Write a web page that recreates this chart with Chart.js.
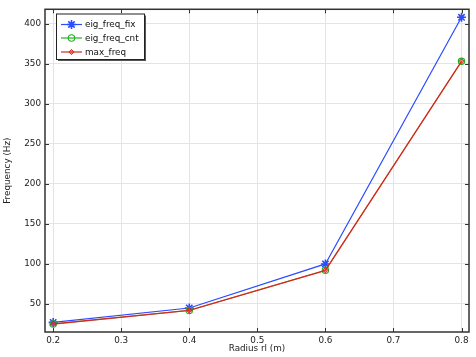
<!DOCTYPE html>
<html>
<head>
<meta charset="utf-8">
<script src="https://cdn.jsdelivr.net/npm/chart.js@4/dist/chart.umd.min.js"></script>
<style>
html,body{margin:0;padding:0;background:#fff;}
canvas{display:block;}
</style>
</head>
<body>
<canvas id="c" width="476" height="357"></canvas>
<script>
const radius = [0.2, 0.4, 0.6, 0.8];
const eigFreqFix = [27, 45, 100, 408];
const eigFreqCnt = [25, 42, 92, 353];
const maxFreq = [25, 42, 92, 353];
const seriesNames = ['eig_freq_fix', 'eig_freq_cnt', 'max_freq'];
const xTitle = 'Radius rl (m)';
const yTitle = 'Frequency (Hz)';

const FONT = 'DejaVu Sans';
const FS = 8.8;
const toPts = (xs, ys) => xs.map((x, i) => ({x: x, y: ys[i]}));

const framePlugin = {
  id: 'frame',
  afterDatasetsDraw(chart) {
    const ctx = chart.ctx, a = chart.chartArea;
    const xs = chart.scales.x, ys = chart.scales.y;
    ctx.save();
    ctx.strokeStyle = '#333';
    ctx.lineWidth = 1.5;
    ctx.strokeRect(a.left, a.top, a.right - a.left, a.bottom - a.top);
    ctx.lineWidth = 1;
    ctx.beginPath();
    const L = 4;
    xs.ticks.forEach(t => {
      const px = Math.round(xs.getPixelForValue(t.value)) + 0.5;
      ctx.moveTo(px, a.bottom); ctx.lineTo(px, a.bottom - L);
      ctx.moveTo(px, a.top); ctx.lineTo(px, a.top + L);
    });
    ys.ticks.forEach(t => {
      const py = Math.round(ys.getPixelForValue(t.value)) + 0.5;
      ctx.moveTo(a.left, py); ctx.lineTo(a.left + L, py);
      ctx.moveTo(a.right, py); ctx.lineTo(a.right - L, py);
    });
    ctx.stroke();
    ctx.restore();
  },
  afterDraw(chart) {
    const ctx = chart.ctx;
    const bx = 56, by = 13.5, bw = 88, bh = 45.5;
    ctx.save();
    ctx.fillStyle = '#555';
    ctx.fillRect(bx + 2, by + 2, bw, bh);
    ctx.fillStyle = '#fff';
    ctx.fillRect(bx, by, bw, bh);
    ctx.strokeStyle = '#222';
    ctx.lineWidth = 1;
    ctx.strokeRect(bx + 0.5, by + 0.5, bw, bh);
    const rows = [24.5, 38, 52];
    chart.data.datasets.forEach((ds, i) => {
      const y = rows[i];
      ctx.strokeStyle = ds.borderColor;
      ctx.lineWidth = 1.2;
      ctx.beginPath();
      ctx.moveTo(61, y); ctx.lineTo(82, y);
      ctx.stroke();
      ctx.strokeStyle = ds.borderColor;
      ctx.fillStyle = ds.backgroundColor;
      ctx.lineWidth = ds.pointBorderWidth;
      Chart.helpers.drawPoint(ctx, {
        pointStyle: ds.pointStyle, radius: ds.pointRadius, rotation: 0,
        borderWidth: ds.pointBorderWidth
      }, 71.5, y);
      ctx.fillStyle = '#111';
      ctx.font = FS + 'px "' + FONT + '"';
      ctx.textBaseline = 'middle';
      ctx.textAlign = 'left';
      ctx.fillText(ds.label, 85, y + 0.5);
    });
    ctx.restore();
  }
};

const datasets = [
  {label: seriesNames[0], data: toPts(radius, eigFreqFix), borderColor: '#2a4cff', backgroundColor: '#2a4cff',
   pointStyle: 'star', pointRadius: 4.5, pointBorderWidth: 1.6, borderWidth: 1.2, order: 3},
  {label: seriesNames[1], data: toPts(radius, eigFreqCnt), borderColor: '#22b222', backgroundColor: 'rgba(255,255,255,0)',
   pointStyle: 'circle', pointRadius: 3.2, pointBorderWidth: 1.1, borderWidth: 0.8, order: 2},
  {label: seriesNames[2], data: toPts(radius, maxFreq), borderColor: '#d42a1c', backgroundColor: 'rgba(230,60,50,0.6)',
   pointStyle: 'rectRot', pointRadius: 2.6, pointBorderWidth: 1, borderWidth: 1.4, order: 1}
];

new Chart(document.getElementById('c'), {
  type: 'line',
  data: {datasets: datasets},
  options: {
    responsive: false,
    animation: false,
    devicePixelRatio: 1,
    layout: {padding: {top: 4, right: 7, left: 0, bottom: 0}},
    plugins: {legend: {display: false}, tooltip: {enabled: false}},
    elements: {line: {tension: 0}},
    scales: {
      x: {
        type: 'linear', min: 0.188, max: 0.811,
        afterFit(s) { s.height = 25; },
        border: {display: false},
        grid: {color: '#e4e4e4', drawTicks: false, lineWidth: 1},
        ticks: {stepSize: 0.1, includeBounds: false, padding: 3, color: '#222', maxRotation: 0,
                font: {family: FONT, size: FS}, callback: v => v.toFixed(1)},
        title: {display: true, text: xTitle, color: '#222', font: {family: FONT, size: FS}, padding: {top: 0, bottom: 3}}
      },
      y: {
        type: 'linear', min: 15, max: 418,
        afterFit(s) { s.width = 45; },
        border: {display: false},
        grid: {color: '#e4e4e4', drawTicks: false, lineWidth: 1},
        ticks: {stepSize: 50, includeBounds: false, padding: 4, color: '#222',
                font: {family: FONT, size: FS}},
        title: {display: true, text: yTitle, color: '#222', font: {family: FONT, size: FS}, padding: {top: 2, bottom: 0}}
      }
    }
  },
  plugins: [framePlugin]
});
</script>
</body>
</html>
